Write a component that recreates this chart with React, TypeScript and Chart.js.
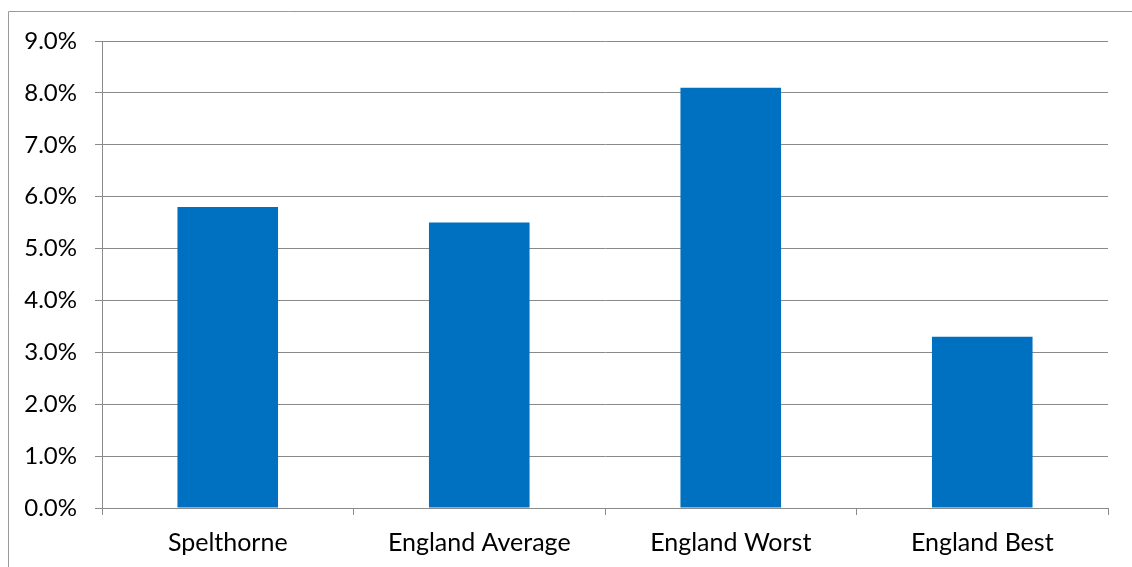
import React, { useEffect, useRef } from "react";
import { Chart, registerables } from "chart.js";

Chart.register(...registerables);

const categories = ["Spelthorne", "England Average", "England Worst", "England Best"];
const values = [5.8, 5.5, 8.1, 3.3];
const yMin = 0;
const yMax = 9;
const yStep = 1;

const FONT = "Lato, 'Liberation Sans', sans-serif";
const GRID = "#8a8a8a";

const frame = {
  id: "frame",
  beforeDraw(chart: any) {
    const ctx = chart.ctx;
    ctx.save();
    ctx.strokeStyle = "#9a9a9a";
    ctx.lineWidth = 1;
    ctx.beginPath();
    ctx.moveTo(8.5, chart.height);
    ctx.lineTo(8.5, 11.5);
    ctx.lineTo(chart.width, 11.5);
    ctx.stroke();
    ctx.restore();
  },
};

export default function App() {
  const ref = useRef<HTMLCanvasElement>(null);
  useEffect(() => {
    if (!ref.current) return;
    const chart = new Chart(ref.current, {
      type: "bar",
      data: {
        labels: categories,
        datasets: [
          {
            data: values,
            backgroundColor: "#0070C0",
            barPercentage: 0.4,
            categoryPercentage: 1,
          },
        ],
      },
      plugins: [frame],
      options: {
        responsive: false,
        animation: false,
        devicePixelRatio: 1,
        layout: { padding: { left: 0, right: 24, top: 41, bottom: 0 } },
        plugins: { legend: { display: false }, tooltip: { enabled: false } },
        scales: {
          x: {
            grid: {
              offset: true,
              drawOnChartArea: false,
              drawTicks: true,
              tickLength: 7,
              color: GRID,
            },
            border: { display: true, color: GRID },
            ticks: {
              color: "#000",
              padding: 13,
              font: { family: FONT, size: 25 },
            },
            afterFit(scale: any) {
              scale.height = 59;
            },
          },
          y: {
            min: yMin,
            max: yMax,
            grid: { color: GRID, tickLength: 7, drawTicks: true },
            border: { display: true, color: GRID },
            ticks: {
              stepSize: yStep,
              color: "#000",
              padding: 18,
              font: { family: FONT, size: 24 },
              callback: (v: any) => Number(v).toFixed(1) + "%",
            },
            afterFit(scale: any) {
              scale.width = 102;
            },
          },
        },
      },
    });
    return () => chart.destroy();
  }, []);
  return (
    <div style={{ position: "fixed", left: 0, top: 0, width: 1132, height: 567, background: "#fff" }}>
      <canvas ref={ref} width={1132} height={567} style={{ width: 1132, height: 567, display: "block" }} />
    </div>
  );
}
